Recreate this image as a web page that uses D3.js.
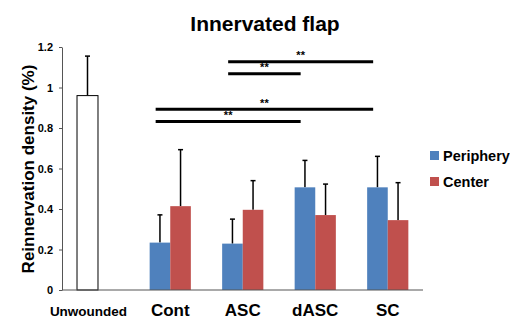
<!DOCTYPE html>
<html>
<head>
<meta charset="utf-8">
<script src="https://cdn.jsdelivr.net/npm/d3@7"></script>
<style>
  body { margin: 0; background: #fff; }
  text { font-family: Arial, "Liberation Sans", sans-serif; }
</style>
</head>
<body>
<div id="chart"></div>
<script>
const width = 510, height = 320;
const margin = { top: 47, right: 87, bottom: 30, left: 62 };

// data
const unwounded = { label: "Unwounded", value: 0.96, err: 0.195 };
const groups = ["Cont", "ASC", "dASC", "SC"];
const series = ["Periphery", "Center"];
const periphery = [0.234, 0.229, 0.507, 0.507];
const peripheryErr = [0.137, 0.121, 0.133, 0.153];
const center = [0.414, 0.396, 0.37, 0.345];
const centerErr = [0.279, 0.144, 0.153, 0.185];
const yTicks = [0, 0.2, 0.4, 0.6, 0.8, 1, 1.2];
// significance brackets: from group, to group, height (in y units)
const sig = [
  { from: "ASC", to: "SC", y: 1.127 },
  { from: "ASC", to: "dASC", y: 1.068 },
  { from: "Cont", to: "SC", y: 0.893 },
  { from: "Cont", to: "dASC", y: 0.832 }
];
const colors = ["#4f81bd", "#c0504d"];

const svg = d3.select("#chart").append("svg")
  .attr("width", width).attr("height", height);

const y = d3.scaleLinear()
  .domain([0, 1.2])
  .range([height - margin.bottom, margin.top]);

const xUn = d3.scaleBand()
  .domain([unwounded.label])
  .range([margin.left, 113])
  .padding(0.417);

const x = d3.scaleBand()
  .domain(groups)
  .range([134, 424]);

const xSub = d3.scaleBand()
  .domain(series)
  .range([0, x.bandwidth()])
  .paddingInner(0)
  .paddingOuter(0.76);

// title
svg.append("text")
  .attr("x", 265).attr("y", 31)
  .attr("text-anchor", "middle")
  .attr("font-size", 21).attr("font-weight", "bold")
  .text("Innervated flap");

// y axis
const yAxis = svg.append("g")
  .attr("transform", `translate(${margin.left},0)`)
  .call(d3.axisLeft(y).tickValues(yTicks).tickSize(3).tickPadding(6)
    .tickFormat(d => d3.format("~g")(d)).tickSizeOuter(0));
yAxis.select(".domain").attr("stroke", "#555");
yAxis.selectAll(".tick line").attr("stroke", "#555");
yAxis.selectAll(".tick text")
  .attr("font-size", 11).attr("font-weight", "bold").attr("fill", "#000")
  .attr("font-family", "Arial, 'Liberation Sans', sans-serif");

svg.append("text")
  .attr("transform", `translate(34,169) rotate(-90)`)
  .attr("text-anchor", "middle")
  .attr("font-size", 17).attr("font-weight", "bold")
  .text("Reinnervation density (%)");

// unwounded bar
const ux = xUn(unwounded.label);
const ucx = ux + xUn.bandwidth() / 2;
svg.append("line")
  .attr("x1", ucx).attr("x2", ucx)
  .attr("y1", y(unwounded.value)).attr("y2", y(unwounded.value + unwounded.err))
  .attr("stroke", "#000").attr("stroke-width", 1.5);
svg.append("line")
  .attr("x1", ucx - 2.5).attr("x2", ucx + 2.5)
  .attr("y1", y(unwounded.value + unwounded.err)).attr("y2", y(unwounded.value + unwounded.err))
  .attr("stroke", "#000").attr("stroke-width", 1.5);
svg.append("rect")
  .attr("x", ux).attr("width", xUn.bandwidth())
  .attr("y", y(unwounded.value)).attr("height", y(0) - y(unwounded.value))
  .attr("fill", "#fff").attr("stroke", "#000").attr("stroke-width", 1);

// grouped bars
const rows = [];
groups.forEach((g, i) => {
  rows.push({ g, s: series[0], v: periphery[i], e: peripheryErr[i], c: colors[0] });
  rows.push({ g, s: series[1], v: center[i], e: centerErr[i], c: colors[1] });
});

const bars = svg.append("g").selectAll("g")
  .data(rows).join("g")
  .attr("transform", d => `translate(${x(d.g) + xSub(d.s)},0)`);

bars.append("line")
  .attr("x1", xSub.bandwidth() / 2).attr("x2", xSub.bandwidth() / 2)
  .attr("y1", d => y(d.v)).attr("y2", d => y(d.v + d.e))
  .attr("stroke", "#000").attr("stroke-width", 1.5);
bars.append("line")
  .attr("x1", xSub.bandwidth() / 2 - 2.5).attr("x2", xSub.bandwidth() / 2 + 2.5)
  .attr("y1", d => y(d.v + d.e)).attr("y2", d => y(d.v + d.e))
  .attr("stroke", "#000").attr("stroke-width", 1.5);
bars.append("rect")
  .attr("width", xSub.bandwidth())
  .attr("y", d => y(d.v)).attr("height", d => y(0) - y(d.v))
  .attr("fill", d => d.c);

// x axis line
svg.append("line")
  .attr("x1", margin.left).attr("x2", 423)
  .attr("y1", y(0)).attr("y2", y(0))
  .attr("stroke", "#555").attr("stroke-width", 1);

// x labels
svg.append("text")
  .attr("x", ucx + 1).attr("y", 315.5)
  .attr("text-anchor", "middle")
  .attr("font-size", 13.5).attr("font-weight", "bold")
  .text(unwounded.label);
svg.append("g").selectAll("text")
  .data(groups).join("text")
  .attr("x", d => x(d) + x.bandwidth() / 2)
  .attr("y", 315.5)
  .attr("text-anchor", "middle")
  .attr("font-size", 17).attr("font-weight", "bold")
  .text(d => d);

// significance brackets
const sx = g => x(g) + xSub(series[0]) + 6;
const sg = svg.append("g").selectAll("g").data(sig).join("g");
sg.append("line")
  .attr("x1", d => sx(d.from)).attr("x2", d => sx(d.to))
  .attr("y1", d => y(d.y)).attr("y2", d => y(d.y))
  .attr("stroke", "#000").attr("stroke-width", 3);
sg.append("text")
  .attr("x", d => (sx(d.from) + sx(d.to)) / 2)
  .attr("y", d => y(d.y) - 2.5)
  .attr("text-anchor", "middle")
  .attr("font-size", 11).attr("font-weight", "bold")
  .text("**");

// legend
const lg = svg.append("g").selectAll("g")
  .data(series).join("g")
  .attr("transform", (d, i) => `translate(430,${151 + i * 26})`);
lg.append("rect").attr("width", 9).attr("height", 9)
  .attr("fill", (d, i) => colors[i]);
lg.append("text")
  .attr("x", 13).attr("y", 9.5)
  .attr("font-size", 14.5).attr("font-weight", "bold")
  .attr("font-family", "Lato, 'Open Sans', sans-serif")
  .text(d => d);
</script>
</body>
</html>
